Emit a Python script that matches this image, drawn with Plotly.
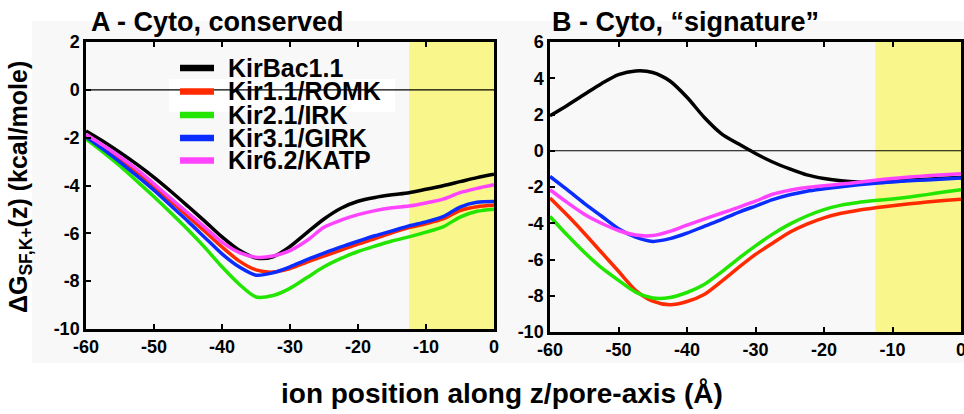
import plotly.graph_objects as go

# Ion position along the pore axis (Å)
z = [-60, -57.5, -55, -52.5, -50, -47.5, -45, -42.5, -40, -37.5, -35, -32.5,
     -30, -27.5, -25, -22.5, -20, -17.5, -15, -12.5, -10, -7.5, -5, -2.5, 0]

names = ["KirBac1.1", "Kir1.1/ROMK", "Kir2.1/IRK", "Kir3.1/GIRK", "Kir6.2/KATP"]
colors = ["#000000", "#ff2a00", "#22e600", "#0a2cff", "#ff44ff"]

# Panel A - cytoplasmic domain, conserved residues (kcal/mole)
cons_kirbac = [-1.72, -2.15, -2.62, -3.12, -3.66, -4.25, -4.87, -5.50, -6.15, -6.70, -7.03, -6.98,
               -6.55, -5.97, -5.40, -4.95, -4.66, -4.50, -4.39, -4.30, -4.16, -4.01, -3.84, -3.67, -3.53]
cons_romk = [-1.93, -2.42, -2.93, -3.48, -4.07, -4.67, -5.29, -5.92, -6.57, -7.15, -7.53, -7.62,
             -7.47, -7.20, -6.95, -6.70, -6.45, -6.22, -5.98, -5.76, -5.60, -5.40, -5.05, -4.89, -4.83]
cons_irk = [-2.06, -2.60, -3.18, -3.82, -4.47, -5.15, -5.85, -6.60, -7.40, -8.12, -8.66, -8.60,
            -8.30, -7.85, -7.40, -7.05, -6.76, -6.53, -6.32, -6.15, -5.95, -5.73, -5.32, -5.08, -4.99]
cons_girk = [-1.97, -2.48, -3.02, -3.60, -4.20, -4.85, -5.50, -6.18, -6.86, -7.40, -7.75, -7.65,
             -7.40, -7.10, -6.83, -6.57, -6.33, -6.10, -5.90, -5.69, -5.52, -5.30, -4.90, -4.70, -4.67]
cons_katp = [-1.86, -2.32, -2.80, -3.33, -3.93, -4.55, -5.15, -5.75, -6.37, -6.80, -7.00, -6.95,
             -6.72, -6.30, -5.75, -5.45, -5.22, -5.05, -4.93, -4.86, -4.73, -4.57, -4.30, -4.12, -3.97]

# Panel B - cytoplasmic domain, "signature" residues (kcal/mole)
sig_kirbac = [1.93, 2.50, 3.10, 3.70, 4.20, 4.40, 4.32, 3.85, 2.95, 1.85, 0.95, 0.38,
              -0.15, -0.62, -1.00, -1.33, -1.53, -1.66, -1.72, -1.72, -1.68, -1.62, -1.57, -1.52, -1.48]
sig_romk = [-2.61, -3.55, -4.55, -5.60, -6.65, -7.70, -8.30, -8.50, -8.32, -7.93, -7.22, -6.45,
            -5.72, -5.10, -4.50, -4.05, -3.70, -3.45, -3.28, -3.15, -3.03, -2.93, -2.83, -2.75, -2.67]
sig_irk = [-3.63, -4.65, -5.60, -6.45, -7.15, -7.80, -8.12, -8.10, -7.82, -7.38, -6.70, -5.95,
           -5.25, -4.60, -4.05, -3.60, -3.25, -3.00, -2.85, -2.75, -2.66, -2.55, -2.42, -2.28, -2.15]
sig_girk = [-1.42, -2.15, -2.90, -3.60, -4.30, -4.77, -5.00, -4.85, -4.55, -4.17, -3.80, -3.40,
            -3.05, -2.70, -2.43, -2.23, -2.10, -1.98, -1.88, -1.79, -1.72, -1.66, -1.61, -1.56, -1.51]
sig_katp = [-2.15, -2.85, -3.50, -4.00, -4.40, -4.65, -4.68, -4.45, -4.10, -3.77, -3.45, -3.12,
            -2.78, -2.40, -2.18, -2.03, -1.93, -1.84, -1.74, -1.63, -1.53, -1.45, -1.38, -1.32, -1.27]

x_ticks = [-60, -50, -40, -30, -20, -10, 0]
x_ticktext = ["-60", "-50", "-40", "-30", "-20", "-10", "0"]
ya_ticks = [2, 0, -2, -4, -6, -8, -10]
yb_ticks = [6, 4, 2, 0, -2, -4, -6, -8, -10]

membrane_edge = -12.5  # start of the shaded region near the selectivity filter

conserved = [cons_kirbac, cons_romk, cons_irk, cons_girk, cons_katp]
signature = [sig_kirbac, sig_romk, sig_irk, sig_girk, sig_katp]

W, H = 964, 414
def px(x):
    return x / W
def py(y):
    return 1 - y / H

fig = go.Figure()
for name, color, ys in zip(names, colors, conserved):
    fig.add_trace(go.Scatter(x=z, y=ys, mode="lines", name=name, showlegend=False,
                             line=dict(color=color, width=3.5, shape="spline", smoothing=0.8),
                             xaxis="x", yaxis="y"))
for name, color, ys in zip(names, colors, signature):
    fig.add_trace(go.Scatter(x=z, y=ys, mode="lines", name=name, showlegend=False,
                             line=dict(color=color, width=3.5, shape="spline", smoothing=0.8),
                             xaxis="x2", yaxis="y2"))

FONT = "Liberation Sans, Arial, sans-serif"
tickfont = dict(family=FONT, size=18, color="black", weight="bold")
axis_common = dict(showline=True, linecolor="black", linewidth=2.5, ticks="inside",
                   ticklen=5, tickwidth=2, tickcolor="black", showgrid=False,
                   zeroline=False, tickfont=tickfont, automargin=False,
                   ticklabeloverflow="allow")

fig.update_layout(
    width=W, height=H,
    margin=dict(l=0, r=0, t=0, b=0, autoexpand=False),
    paper_bgcolor="white",
    plot_bgcolor="#f8f8f8",
    font=dict(family=FONT, color="black"),
    xaxis=dict(domain=[px(86), px(494)], range=[-60, 0], tickvals=x_ticks,
               ticktext=x_ticktext, mirror="ticks", anchor="y", **axis_common),
    yaxis=dict(domain=[py(329), py(42)], range=[-10, 2], tickvals=ya_ticks,
               ticktext=[str(v) for v in ya_ticks], mirror=True, anchor="x", **axis_common),
    xaxis2=dict(domain=[px(550), px(961)], range=[-60, 0], tickvals=x_ticks,
                ticktext=x_ticktext, mirror="ticks", anchor="y2", **axis_common),
    yaxis2=dict(domain=[py(332), py(42)], range=[-10, 6], tickvals=yb_ticks,
                ticktext=[str(v) for v in yb_ticks], mirror=True, anchor="x2", **axis_common),
)

shapes = [
    # light grey panel behind both plots
    dict(type="rect", xref="paper", yref="paper", x0=px(32), x1=1, y0=py(363), y1=py(21),
         fillcolor="#f8f8f8", line=dict(width=0), layer="below"),
]
for xr, yr, yref_dom in (("x", "y", "y domain"), ("x2", "y2", "y2 domain")):
    shapes.append(dict(type="rect", xref=xr, yref=yref_dom, x0=membrane_edge, x1=0, y0=0, y1=1,
                       fillcolor="#f9f78b", line=dict(width=0), layer="below"))
    shapes.append(dict(type="line", xref=xr, yref=yr, x0=-60, x1=0, y0=0, y1=0,
                       line=dict(color="black", width=1.2), layer="below"))

# legend backing box and line samples
shapes.append(dict(type="rect", xref="paper", yref="paper", x0=px(169), x1=px(395),
                   y0=py(112), y1=py(79), fillcolor="white", line=dict(width=0), layer="below"))
legend_rows = [68, 91.5, 115, 138, 160.5]
for color, yc in zip(colors, legend_rows):
    shapes.append(dict(type="line", xref="paper", yref="paper", x0=px(180), x1=px(214),
                       y0=py(yc), y1=py(yc), line=dict(color=color, width=6.5), layer="above"))
fig.update_layout(shapes=shapes)

annotations = [
    dict(text="<b>A - Cyto, conserved</b>", x=px(89), y=py(22), xref="paper", yref="paper",
         xanchor="left", yanchor="middle", showarrow=False, font=dict(size=27)),
    dict(text="<b>B - Cyto, “signature”</b>", x=px(550), y=py(22), xref="paper", yref="paper",
         xanchor="left", yanchor="middle", showarrow=False, font=dict(size=27)),
    dict(text="<b>ΔG<sub>SF,K+</sub>(z) (kcal/mole)</b>", x=px(20), y=py(187), xref="paper",
         yref="paper", xanchor="center", yanchor="middle", textangle=-90, showarrow=False,
         font=dict(size=25)),
    dict(text="<b>ion position along z/pore-axis (Å)</b>", x=px(502), y=py(393), xref="paper",
         yref="paper", xanchor="center", yanchor="middle", showarrow=False, font=dict(size=28)),
]
for name, yc in zip(names, legend_rows):
    annotations.append(dict(text=f"<b>{name}</b>", x=px(226), y=py(yc), xref="paper", yref="paper",
                            xanchor="left", yanchor="middle", showarrow=False, font=dict(size=25)))
fig.update_layout(annotations=annotations)

fig.write_html("out.html")
